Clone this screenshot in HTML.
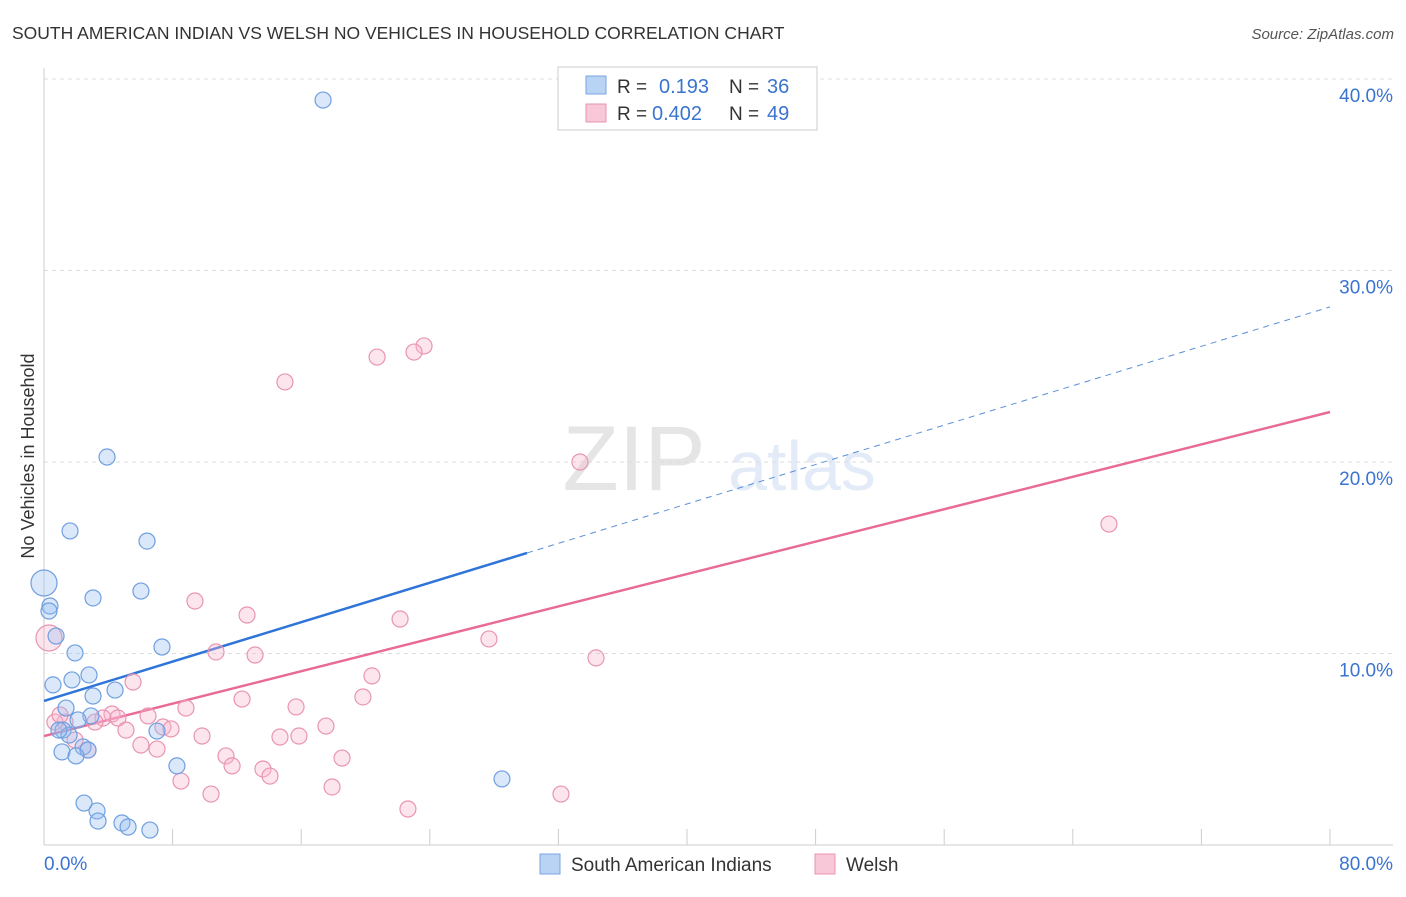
<!DOCTYPE html>
<html><head><meta charset="utf-8"><style>
body{margin:0;background:#fff;font-family:"Liberation Sans",sans-serif}
svg text{font-family:"Liberation Sans",sans-serif}
</style></head><body>
<svg id="chart" width="1406" height="892" viewBox="0 0 1406 892" xmlns="http://www.w3.org/2000/svg">
<text x="12" y="39" font-size="17.5" fill="#333">SOUTH AMERICAN INDIAN VS WELSH NO VEHICLES IN HOUSEHOLD CORRELATION CHART</text>
<text x="1394" y="39" font-size="15" fill="#555" font-style="italic" text-anchor="end">Source: ZipAtlas.com</text>
<g opacity="0.25">
<text x="634" y="490" font-size="92" font-family="Liberation Serif,serif" fill="#999" text-anchor="middle">ZIP</text>
<text x="802" y="490" font-size="70" fill="#8fb2e0" text-anchor="middle">atlas</text>
</g>
<g id="grid"></g>
<g id="axes"></g>
<g id="trends"></g>
<g id="points"></g>
<text x="34" y="456" font-size="18" fill="#333" text-anchor="middle" transform="rotate(-90 34 456)">No Vehicles in Household</text>
<g>
<rect x="558" y="67" width="259" height="63" fill="#fff" stroke="#ccc"/>
<rect x="586" y="76" width="20" height="18" fill="#b9d3f5" stroke="#7aa6e0"/>
<text x="617" y="93" font-size="19" fill="#333">R = </text><text x="659" y="93" font-size="20" fill="#3a74d0">0.193</text>
<text x="729" y="93" font-size="19" fill="#333">N = </text><text x="767" y="93" font-size="20" fill="#3a74d0">36</text>
<rect x="586" y="104" width="20" height="18" fill="#f8c8d8" stroke="#e895b0"/>
<text x="617" y="120" font-size="19" fill="#333">R = </text><text x="652" y="120" font-size="20" fill="#3a74d0">0.402</text>
<text x="729" y="120" font-size="19" fill="#333">N = </text><text x="767" y="120" font-size="20" fill="#3a74d0">49</text>
</g>
<g>
<rect x="540" y="854" width="20" height="20" fill="#b9d3f5" stroke="#7aa6e0"/>
<text x="571" y="871" font-size="19" fill="#333">South American Indians</text>
<rect x="815" y="854" width="20" height="20" fill="#f8c8d8" stroke="#e895b0"/>
<text x="846" y="871" font-size="19" fill="#333">Welsh</text>
</g>
</svg>
<script>
const yTicks=[10,20,30,40];
const yTickLabels=["10.0%","20.0%","30.0%","40.0%"];
const xTicks=[0,8,16,24,32,40,48,56,64,72,80];
const blueX=[17.36,3.92,1.62,6.41,0,6.03,3.05,0.37,0.31,0.75,7.34,1.93,2.80,0.56,1.74,4.42,3.05,1.37,2.92,2.12,1.18,1.56,7.03,2.43,2.74,1.12,1.99,8.27,28.49,2.49,3.30,3.36,4.85,5.23,6.59,0.93];
const blueY=[38.9,20.26,16.40,15.87,13.68,13.26,12.9,12.48,12.22,10.91,10.34,10.03,8.88,8.36,8.62,8.09,7.78,7.15,6.74,6.53,6.0,5.74,5.95,5.12,4.96,4.86,4.65,4.13,3.45,2.19,1.78,1.25,1.15,0.94,0.78,6.0];
const pinkX=[23.64,20.72,23.02,14.99,33.34,66.25,9.39,12.63,22.15,0.31,27.68,34.34,10.70,13.13,20.40,5.54,19.84,12.32,8.83,15.68,6.47,4.23,3.67,4.60,3.17,1.31,0.68,17.54,7.40,7.90,5.10,9.83,14.68,15.86,6.03,7.03,2.74,11.32,18.54,11.70,13.62,14.06,8.52,17.92,10.39,32.16,22.64,1.0,1.93];
const pinkY=[26.06,25.48,25.74,24.18,20.0,16.76,12.74,12.01,11.8,10.81,10.76,9.77,10.08,9.92,8.83,8.51,7.73,7.62,7.15,7.21,6.74,6.84,6.63,6.63,6.42,6.42,6.42,6.21,6.16,6.06,6.0,5.69,5.64,5.69,5.22,5.01,4.96,4.65,4.54,4.13,3.97,3.60,3.34,3.03,2.66,2.66,1.88,6.79,5.48];
const blueTrend=[7.52,28.1];const blueSolidEnd=30.05;
const pinkTrend=[5.69,22.61];
const X=v=>44+v*16.075, Y=v=>845-v*19.15;
const NS="http://www.w3.org/2000/svg";
function mk(t,a,p){const e=document.createElementNS(NS,t);for(const k in a)e.setAttribute(k,a[k]);p.appendChild(e);return e;}
const grid=document.getElementById('grid'),axes=document.getElementById('axes'),tr=document.getElementById('trends'),pts=document.getElementById('points');
yTicks.forEach((t,i)=>{const l=mk('line',{x1:44,x2:1393,y1:Y(t),y2:Y(t),stroke:'#ddd','stroke-dasharray':'4,4'},grid);


const tx=mk('text',{x:1393,y:Y(t)+23,'font-size':19,fill:'#3a74d0','text-anchor':'end'},axes);tx.textContent=yTickLabels[i];

});
mk('line',{x1:44,x2:44,y1:68,y2:845,stroke:'#ccc'},axes);
mk('line',{x1:44,x2:1393,y1:845,y2:845,stroke:'#ccc'},axes);
xTicks.forEach(t=>{const l=mk('line',{x1:X(t),x2:X(t),y1:829,y2:845,stroke:'#ccc'},axes);

});
let a=mk('text',{x:44,y:870,'font-size':19,fill:'#3a74d0'},axes);a.textContent="0.0%";


a=mk('text',{x:1393,y:870,'font-size':19,fill:'#3a74d0','text-anchor':'end'},axes);a.textContent="80.0%";


function pt(xs,ys,fill,stroke,name){xs.forEach((x,i)=>{const r=(x<0.5&&(ys[i]>13||(ys[i]>10&&ys[i]<11)))?13:8;
const c=mk('circle',{cx:X(x),cy:Y(ys[i]),r:r,fill:fill,stroke:stroke,'stroke-width':1.2},pts);

});}
pt(pinkX,pinkY,'rgba(248,180,205,0.35)','#e895b0','welsh-point');
pt(blueX,blueY,'rgba(150,190,240,0.35)','#6f9fe0','south-american-indian-point');
const by=x=>blueTrend[0]+(blueTrend[1]-blueTrend[0])*x/80;
let l=mk('line',{x1:X(0),y1:Y(by(0)),x2:X(blueSolidEnd),y2:Y(by(blueSolidEnd)),stroke:'#2f74d8','stroke-width':2.5},tr);


l=mk('line',{x1:X(blueSolidEnd),y1:Y(by(blueSolidEnd)),x2:X(80),y2:Y(by(80)),stroke:'#5a8fd8','stroke-width':1,'stroke-dasharray':'6,5'},tr);


l=mk('line',{x1:X(0),y1:Y(pinkTrend[0]),x2:X(80),y2:Y(pinkTrend[1]),stroke:'#e86a95','stroke-width':2.5},tr);


</script>
</body></html>
